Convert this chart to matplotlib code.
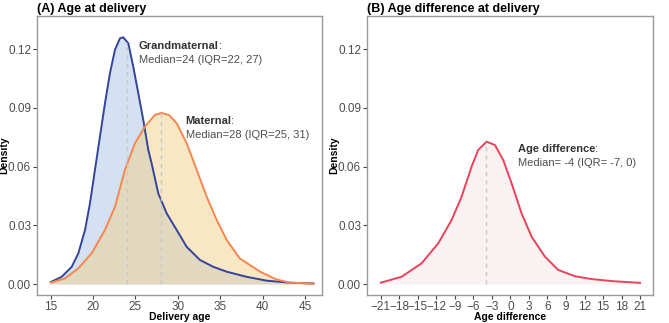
import numpy as np
import matplotlib
matplotlib.use('Agg')
import matplotlib.pyplot as plt

plt.rcParams['font.family'] = ['Liberation Sans', 'DejaVu Sans']

# Kernel density estimates read off at selected ages
gm_age = [15.0, 16.3, 17.48, 18.26, 19.05, 19.63, 20.22, 20.81, 21.4, 21.99, 22.58, 23.17, 23.56,
          24.15, 24.74, 25.33, 25.92, 26.51, 26.9, 27.69, 28.68, 29.86, 31.04, 32.6, 34.17, 35.76,
          38.1, 40.5, 43.2, 46]
gm_dens = [.0010, .0037, .0088, .0157, .0276, .0412, .0583, .0753, .0923, .1077, .1196, .1255, .126,
           .123, .111, .0975, .0838, .0685, .0617, .0463, .0361, .0276, .019, .0123, .0088, .0063,
           .0037, .0017, .0007, .0003]

m_age = [15.0, 16.69, 18.26, 19.83, 21.4, 22.58, 23.76, 24.94, 26.12, 27.3, 28.09, 29.0, 29.86,
         31.04, 32.22, 33.4, 34.58, 35.76, 37.3, 39.7, 41.6, 43.2, 46]
m_dens = [.0007, .0029, .008, .0157, .0276, .0395, .0583, .0719, .0804, .0864, .0874, .0862, .0821,
          .0719, .0583, .0446, .0327, .0225, .0131, .0063, .0024, .0007, .0002]

diff_age = [-21, -17.65, -14.4, -11.7, -9.54, -7.92, -6.3, -5.23, -3.87, -2.52, -1.18, 0.18, 1.8,
            3.42, 5.58, 7.74, 10.44, 13.0, 16.4, 21]
diff_dens = [.0007, .0037, .0106, .0208, .0327, .0446, .06, .0685, .0727, .071, .0634, .0515, .0361,
             .0242, .014, .0072, .0040, .0026, .0015, .0006]

gm_median, m_median, diff_median = 24, 28, -4

y_ticks = [0.00, 0.03, 0.06, 0.09, 0.12]
left_xticks = [15, 20, 25, 30, 35, 40, 45]
right_xticks = list(range(-21, 22, 3))

fig = plt.figure(figsize=(6.69, 3.23), dpi=100)
W, H = 669, 323
axA = fig.add_axes([37.3 / W, 28 / H, (322 - 37.3) / W, 279 / H])
axB = fig.add_axes([367.3 / W, 28 / H, (653 - 367.3) / W, 279 / H])


def style(ax):
    for s in ax.spines.values():
        s.set_color('#9a9a9a')
        s.set_linewidth(1.0)
    ax.tick_params(length=3, width=0.8, color='#444444', labelcolor='#4d4d4d', labelsize=8.5, pad=1.5)
    ax.set_ylim(-0.0056, 0.1369)
    ax.set_yticks(y_ticks)
    ax.set_yticklabels([f'{t:.2f}' for t in y_ticks])
    ax.set_ylabel('Density', fontsize=7.5, fontweight='bold')
    ax.yaxis.set_label_coords(-0.097, 0.5)


def label(ax, x, y, head, body):
    t = ax.text(x, y, head, fontsize=8, fontweight='bold', color='#333333', va='center')
    ax.annotate(':', xy=(1, 0.5), xycoords=t, va='center', fontsize=8, color='#333333')
    ax.text(x, y - 0.0072, body, fontsize=8, color='#4d4d4d', va='center')


def median_line(ax, m, xs, ys):
    ax.plot([m, m], [0, np.interp(m, xs, ys)], color='#c8c8c8', ls=(0, (3, 3)), lw=1)


# (A) grandmaternal and maternal ages
axA.fill_between(gm_age, gm_dens, color='#a9c4e6', alpha=0.5, lw=0)
axA.plot(gm_age, gm_dens, color='#34449a', lw=1.4, solid_joinstyle='round')
axA.fill_between(m_age, m_dens, color='#f0d08c', alpha=0.5, lw=0)
axA.plot(m_age, m_dens, color='#f4874f', lw=1.4, solid_joinstyle='round')
median_line(axA, gm_median, gm_age, gm_dens)
median_line(axA, m_median, m_age, m_dens)
axA.set_xlim(13.42, 47.0)
axA.set_xticks(left_xticks)
style(axA)
axA.set_xlabel('Delivery age', fontsize=7.5, fontweight='bold')
axA.xaxis.set_label_coords(0.5, -0.062)
axA.set_title('(A) Age at delivery', loc='left', fontsize=9, fontweight='bold', pad=3)
label(axA, 25.4, 0.1218, 'Grandmaternal', 'Median=24 (IQR=22, 27)')
label(axA, 30.9, 0.0834, 'Maternal', 'Median=28 (IQR=25, 31)')

# (B) difference between the two
axB.fill_between(diff_age, diff_dens, color='#f8e8ea', alpha=0.6, lw=0)
axB.plot(diff_age, diff_dens, color='#e8435a', lw=1.4, solid_joinstyle='round')
median_line(axB, diff_median, diff_age, diff_dens)
axB.set_xlim(-23.2, 23.1)
axB.set_xticks(right_xticks)
style(axB)
axB.set_xlabel('Age difference', fontsize=7.5, fontweight='bold')
axB.xaxis.set_label_coords(0.5, -0.062)
axB.set_title('(B) Age difference at delivery', loc='left', fontsize=9, fontweight='bold', pad=3)
label(axB, 1.15, 0.069, 'Age difference', 'Median= -4 (IQR= -7, 0)')

fig.savefig('out.png', dpi=100)
